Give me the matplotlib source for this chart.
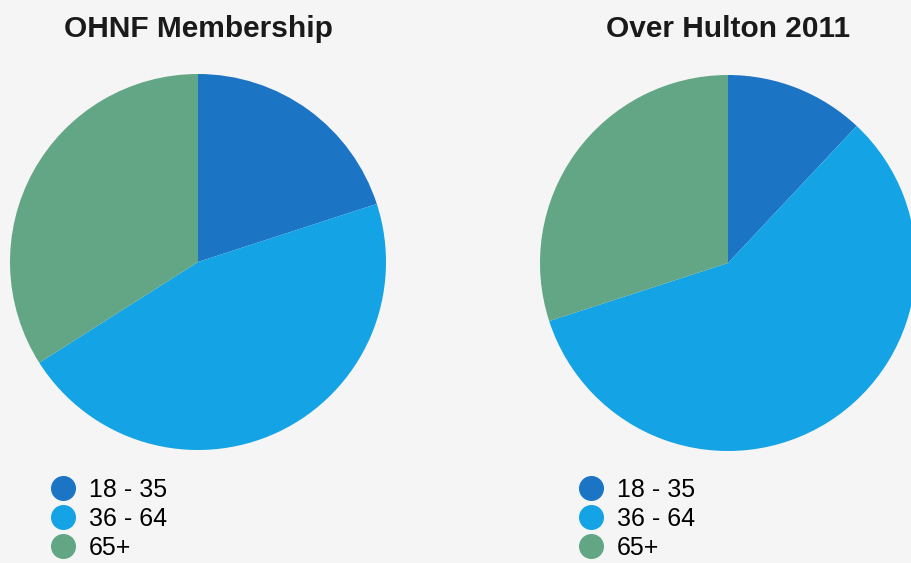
import matplotlib
matplotlib.use("Agg")
import matplotlib.pyplot as plt
from matplotlib.lines import Line2D

plt.rcParams['font.family'] = ['Liberation Sans', 'DejaVu Sans']

age_groups = ['18 - 35', '36 - 64', '65+']
ohnf_share = [20, 46, 34]
hulton_share = [12, 58, 30]
titles = ['OHNF Membership', 'Over Hulton 2011']
colors = ['#1c74c4', '#14a3e4', '#62a685']

W, H = 911, 563
fig = plt.figure(figsize=(W / 100, H / 100), dpi=100, facecolor='#f5f5f5')

R = 188
centers = [(198, 262), (728, 263)]
legend_x = [48, 576]

for (cx, cy), vals, title, lx in zip(centers, [ohnf_share, hulton_share], titles, legend_x):
    ax = fig.add_axes([(cx - R) / W, (H - cy - R) / H, 2 * R / W, 2 * R / H])
    ax.pie(vals, colors=colors, startangle=90, counterclock=False,
           radius=1, wedgeprops=dict(linewidth=0))
    ax.set_xlim(-1, 1)
    ax.set_ylim(-1, 1)
    ax.set_aspect('equal')
    ax.axis('off')
    fig.text(cx / W, 1 - 29 / H, title, ha='center', va='center',
             fontsize=21.5, fontweight='bold', color='#1a1a1a')
    handles = [Line2D([], [], marker='o', linestyle='none', markersize=17,
                      markerfacecolor=c, markeredgecolor=c) for c in colors]
    fig.legend(handles, age_groups, loc='upper left',
               bbox_to_anchor=(lx / W, 1 - 478 / H), frameon=False,
               fontsize=18, handletextpad=0.45, labelspacing=0.2,
               borderpad=0, borderaxespad=0, handlelength=1.2)

fig.savefig('out.png', dpi=100, facecolor=fig.get_facecolor())
